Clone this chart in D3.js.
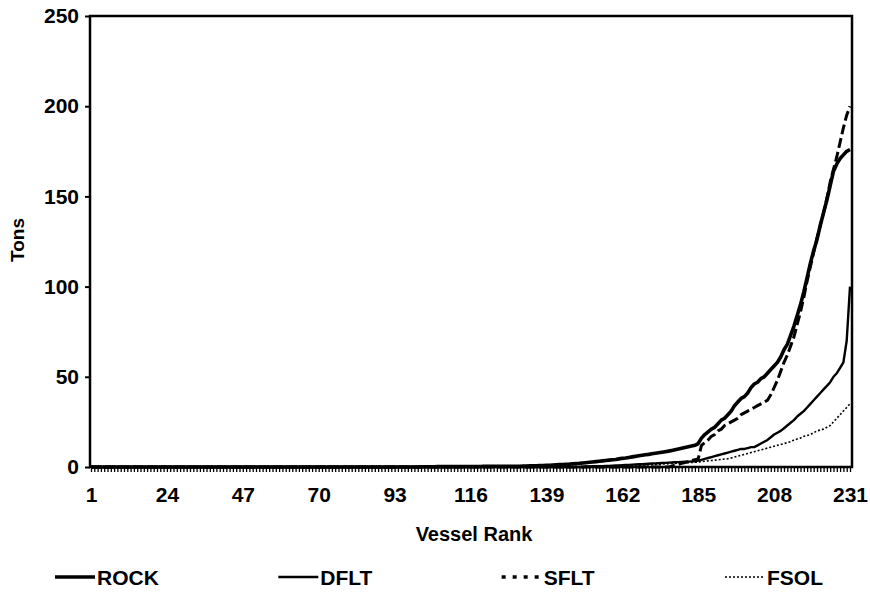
<!DOCTYPE html>
<html>
<head>
<meta charset="utf-8">
<script src="https://cdn.jsdelivr.net/npm/d3@7"></script>
<style>
  body { margin: 0; background: #fff; }
  text { font-family: "Liberation Sans", Arial, sans-serif; font-weight: bold; fill: #000; }
</style>
</head>
<body>
<svg id="chart" width="870" height="592"></svg>
<script>
// vessel rank 1..231, tick labels every 23 ranks
const xTickLabels = [1, 24, 47, 70, 93, 116, 139, 162, 185, 208, 231];
const yTickLabels = [0, 50, 100, 150, 200, 250];
const seriesNames = ['ROCK', 'DFLT', 'SFLT', 'FSOL'];

// tons per vessel (ranks 1..231)
const rock = [
  0,0,0,0,0,0,0,0,0,0, 0,0,0,0,0,0,0,0,0,0, 0,0,0,0,0,0,0,0,0,0,
  0,0,0,0,0,0,0,0,0,0, 0,0,0,0,0,0,0,0,0,0, 0,0,0,0,0,0,0,0,0,0,
  0,0,0,0,0,0,0,0,0,0, 0,0,0,0,0,0,0,0,0,0, 0,0,0,0,0,0,0,0,0,0,
  0,0,0,0,0,0,0,0,0,0, 0.1,0.1,0.1,0.1,0.1,0.2,0.2,0.2,0.2,0.2,
  0.2,0.2,0.3,0.3,0.3,0.3,0.3,0.3,0.3,0.4, 0.4,0.4,0.4,0.4,0.4,0.4,0.4,0.4,0.4,0.4,
  0.4,0.5,0.5,0.6,0.6,0.7,0.8,0.8,0.9,1.0, 1.1,1.2,1.3,1.4,1.5,1.6,1.8,1.9,2.0,2.2,
  2.4,2.6,2.8,3.0,3.2,3.4,3.6,3.8,4.0,4.2, 4.5,4.8,5.0,5.3,5.6,5.9,6.2,6.5,6.8,7.0,
  7.3,7.6,7.9,8.2,8.5,8.8,9.2,9.6,10.0,10.4, 10.8,11.2,11.6,12.0,
  13,16,18,19.5,21,22,24,26,27,29, 31,34,36,38,39,41,44,46,47,49,
  50,52,54,56,58,61,65,68,73,78, 84,90,97,105,113,120,126,134,141,148,
  156,164,168,171,173,175,176
];
const dflt = [
  0,0,0,0,0,0,0,0,0,0, 0,0,0,0,0,0,0,0,0,0, 0,0,0,0,0,0,0,0,0,0,
  0,0,0,0,0,0,0,0,0,0, 0,0,0,0,0,0,0,0,0,0, 0,0,0,0,0,0,0,0,0,0,
  0,0,0,0,0,0,0,0,0,0, 0,0,0,0,0,0,0,0,0,0, 0,0,0,0,0,0,0,0,0,0,
  0,0,0,0,0,0,0,0,0,0, 0,0,0,0,0,0,0,0,0,0, 0,0,0,0,0,0,0,0,0,0,
  0,0,0,0,0,0,0,0,0,0, 0,0,0,0,0,0,0,0,0,0, 0,0,0,0,0,0,0,0,0,0,
  0.3,0.3,0.4,0.4,0.5,0.5,0.6,0.6,0.7,0.8, 0.9,1.0,1.1,1.2,1.3,1.4,1.5,1.6,1.7,1.8,
  1.9,2.0,2.1,2.2,2.3,2.4,2.5,2.6,2.7,2.8, 2.9,3.0,3.1,3.2,
  3.5,4,4.5,5,5.5,6,6.5,7,7.5,8, 8.5,9,9.5,10,10,10.5,11,11,12,13,
  14,15,16.5,18,19,20,21.5,23,24.5,26, 28,29.5,31,33,35,37,39,41,43,45,
  47,50,52,55,58,70,100
];
const sflt = [
  0,0,0,0,0,0,0,0,0,0, 0,0,0,0,0,0,0,0,0,0, 0,0,0,0,0,0,0,0,0,0,
  0,0,0,0,0,0,0,0,0,0, 0,0,0,0,0,0,0,0,0,0, 0,0,0,0,0,0,0,0,0,0,
  0,0,0,0,0,0,0,0,0,0, 0,0,0,0,0,0,0,0,0,0, 0,0,0,0,0,0,0,0,0,0,
  0,0,0,0,0,0,0,0,0,0, 0,0,0,0,0,0,0,0,0,0, 0,0,0,0,0,0,0,0,0,0,
  0,0,0,0,0,0,0,0,0,0, 0,0,0,0,0,0,0,0,0,0, 0,0,0,0,0,0,0,0,0,0,
  0,0,0,0,0,0,0,0,0,0, 0,0,0,0,0,0,0,0,0,0,
  0,0,0,0,0,0,0.5,1,1.5,2, 2.5,3,3.5,4,
  4.5,12,13.5,15,17,18,20,21,23,24, 25,26,27,29,30,31,32,33,34,35,
  36,37,40,44,48,53,58,62,67,72, 79,86,94,103,111,119,127,134,141,149,
  158,165,172,180,188,195,200
];
const fsol = [
  0,0,0,0,0,0,0,0,0,0, 0,0,0,0,0,0,0,0,0,0, 0,0,0,0,0,0,0,0,0,0,
  0,0,0,0,0,0,0,0,0,0, 0,0,0,0,0,0,0,0,0,0, 0,0,0,0,0,0,0,0,0,0,
  0,0,0,0,0,0,0,0,0,0, 0,0,0,0,0,0,0,0,0,0, 0,0,0,0,0,0,0,0,0,0,
  0,0,0,0,0,0,0,0,0,0, 0,0,0,0,0,0,0,0,0,0, 0,0,0,0,0,0,0,0,0,0,
  0,0,0,0,0,0,0,0,0,0, 0,0,0,0,0,0,0,0,0,0, 0,0,0,0,0,0,0,0,0,0,
  0,0,0,0,0,0,0,0,0,0,
  0.3,0.4,0.5,0.6,0.7,0.8,0.9,1.0,1.1,1.2, 1.3,1.4,1.5,1.6,1.7,1.8,1.9,2.0,2.1,2.2,
  2.3,2.4,2.5,2.6,
  2.8,3,3.2,3.4,3.6,3.8,4,4.2,4.4,4.6, 5,5.5,6,6.5,7,7.5,8,8.5,9,9.5,
  10,10.5,11,11.5,12,12.5,13,13.5,14,15, 15.5,16,17,17.5,18,19,20,20.5,21,22,
  23,25,27,29,31,33,35
];

const ranks = d3.range(1, rock.length + 1);

const svg = d3.select('#chart');
const margin = { left: 91, right: 18, top: 16, bottom: 125 };
const W = 870, H = 592;

const x = d3.scaleLinear().domain([1, 231]).range([margin.left, W - margin.right - 2]);
const y = d3.scaleLinear().domain([0, 250]).range([H - margin.bottom, margin.top]);

// plot frame
svg.append('rect')
  .attr('x', margin.left - 1)
  .attr('y', margin.top)
  .attr('width', W - margin.right - margin.left + 1)
  .attr('height', H - margin.bottom - margin.top)
  .attr('fill', 'none')
  .attr('stroke', '#000')
  .attr('stroke-width', 2.5);

// y axis
const yAxis = d3.axisLeft(y).tickValues(yTickLabels).tickSize(5).tickPadding(6);
svg.append('g')
  .attr('transform', `translate(${margin.left - 1},0)`)
  .call(yAxis)
  .call((g) => g.select('.domain').remove())
  .call((g) => g.selectAll('line').attr('stroke-width', 2))
  .call((g) => g.selectAll('text').style('font-size', '21px'));

// x axis: minor tick at each rank, labels every 23
svg.append('g')
  .attr('transform', `translate(0,${y(0)})`)
  .call(d3.axisBottom(x).tickValues(ranks).tickSize(5).tickFormat(''))
  .call((g) => g.select('.domain').remove())
  .call((g) => g.selectAll('line').attr('stroke-width', 1.3));

svg.append('g')
  .attr('transform', `translate(0,${y(0)})`)
  .call(d3.axisBottom(x).tickValues(xTickLabels).tickSize(0).tickPadding(20))
  .call((g) => g.select('.domain').remove())
  .call((g) => g.selectAll('text').style('font-size', '21px'));

// axis titles
svg.append('text')
  .attr('x', 474)
  .attr('y', 541)
  .attr('text-anchor', 'middle')
  .style('font-size', '20px')
  .text('Vessel Rank');

svg.append('text')
  .attr('transform', 'translate(24,240) rotate(-90)')
  .attr('text-anchor', 'middle')
  .style('font-size', '19px')
  .text('Tons');

// series lines
const styles = {
  ROCK: { width: 3.6, dash: null },
  DFLT: { width: 2.4, dash: null },
  SFLT: { width: 3, dash: '10,4' },
  FSOL: { width: 1.6, dash: '2,2' },
};
const seriesData = { ROCK: rock, DFLT: dflt, SFLT: sflt, FSOL: fsol };

const line = d3.line()
  .x((d, i) => x(ranks[i]))
  .y((d) => y(d));

const drawOrder = ['FSOL', 'DFLT', 'SFLT', 'ROCK'];
drawOrder.forEach((name) => {
  svg.append('path')
    .datum(seriesData[name])
    .attr('d', line)
    .attr('fill', 'none')
    .attr('stroke', '#000')
    .attr('stroke-width', styles[name].width)
    .attr('stroke-dasharray', styles[name].dash)
    .attr('stroke-linejoin', 'round');
});

// legend
const legendX = d3.scalePoint().domain(seriesNames).range([55, 725]);
const legend = svg.append('g').attr('transform', 'translate(0,577)');
seriesNames.forEach((name) => {
  const lx = legendX(name);
  legend.append('line')
    .attr('x1', lx)
    .attr('x2', lx + 40)
    .attr('y1', 0)
    .attr('y2', 0)
    .attr('stroke', '#000')
    .attr('stroke-width', name === 'SFLT' ? 3.5 : styles[name].width)
    .attr('stroke-dasharray', name === 'SFLT' ? '4,7' : styles[name].dash);
  legend.append('text')
    .attr('x', lx + 42)
    .attr('y', 8)
    .style('font-size', '21px')
    .text(name);
});
</script>
</body>
</html>
